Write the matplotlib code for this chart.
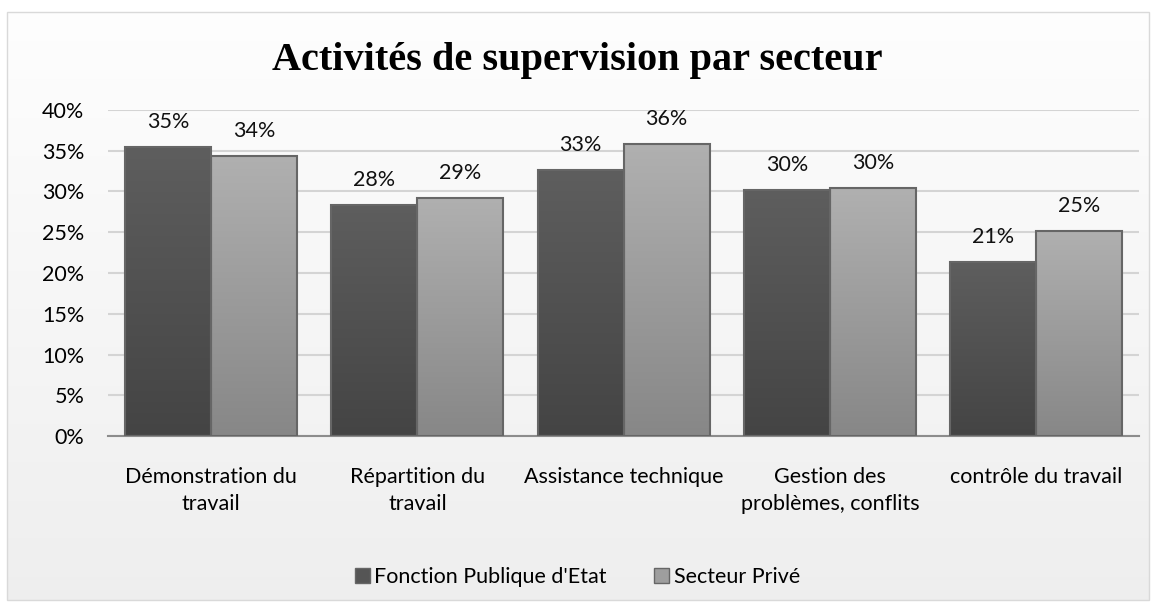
'''Bar chart: supervision activities by sector'''

import numpy as np
import matplotlib as ma
ma.use('agg')
import matplotlib.pyplot as plt
from matplotlib.patches import Rectangle, Patch

categories = ['Démonstration du\ntravail', 'Répartition du\ntravail',
              'Assistance technique', 'Gestion des\nproblèmes, conflits',
              'contrôle du travail']
publique = [35.4, 28.4, 32.6, 30.2, 21.3]
prive = [34.4, 29.2, 35.8, 30.4, 25.2]
labels_pub = ['35%', '28%', '33%', '30%', '21%']
labels_prv = ['34%', '29%', '36%', '30%', '25%']
series_names = ["Fonction Publique d'Etat", 'Secteur Privé']
yticks = [0, 5, 10, 15, 20, 25, 30, 35, 40]

FONT = ['Lato', 'DejaVu Sans']
plt.rcParams['font.family'] = FONT
FS = 15.5


def gradient_bar(ax, bar, top_col, bot_col):
    x, y = bar.get_x(), bar.get_y()
    w, h = bar.get_width(), bar.get_height()
    grad = np.linspace(0, 1, 256).reshape(-1, 1)
    c1 = np.array(ma.colors.to_rgb(top_col))
    c2 = np.array(ma.colors.to_rgb(bot_col))
    img = c1 * (1 - grad[..., None]) + c2 * grad[..., None]
    im = ax.imshow(img, extent=(x, x + w, y, y + h), origin='upper',
                   aspect='auto', zorder=2)
    im.set_clip_path(bar)
    bar.set_facecolor('none')
    bar.set_edgecolor('#666666')
    bar.set_linewidth(1.5)
    bar.set_zorder(3)


def main():
    fig = plt.figure(figsize=(11.55, 6.04), dpi=100)
    fig.patch.set_facecolor('white')

    # chart area background with soft vertical gradient
    bg = fig.add_axes([0, 0, 1, 1], zorder=-5)
    g = np.linspace(0, 1, 256).reshape(-1, 1)
    top = np.array([0.995, 0.995, 0.995])
    bot = np.array([0.935, 0.935, 0.935])
    bg.imshow(top * (1 - g[..., None]) + bot * g[..., None],
              extent=(0.006, 0.995, 0.007, 0.98), aspect='auto', origin='upper')
    bg.add_patch(Rectangle((0.006, 0.007), 0.989, 0.973, fill=False,
                           edgecolor='#d9d9d9', lw=1))
    bg.set_xlim(0, 1)
    bg.set_ylim(0, 1)
    bg.axis('off')

    ax = fig.add_axes([0.0935, 0.278, 0.893, 0.54])
    ax.set_facecolor('none')
    x = np.arange(len(categories))
    w = 0.417
    b1 = ax.bar(x - w / 2, publique, w)
    b2 = ax.bar(x + w / 2, prive, w)
    for bar in b1:
        gradient_bar(ax, bar, '#5e5e5e', '#444444')
    for bar in b2:
        gradient_bar(ax, bar, '#b0b0b0', '#878787')

    for i in range(len(categories)):
        ax.annotate(labels_pub[i], (x[i] - w / 2, publique[i]), xytext=(0, 18),
                    textcoords='offset points', ha='center', va='center',
                    fontsize=FS, color='#111111')
        ax.annotate(labels_prv[i], (x[i] + w / 2, prive[i]), xytext=(0, 18),
                    textcoords='offset points', ha='center', va='center',
                    fontsize=FS, color='#111111')

    ax.set_xlim(-0.5, len(categories) - 0.5)
    ax.set_ylim(0, 40)
    ax.set_yticks(yticks)
    ax.set_yticklabels(['%d%%' % t for t in yticks], fontsize=FS)
    ax.yaxis.grid(True, color='#d4d4d4', lw=1.5)
    ax.set_axisbelow(True)
    ax.set_xticks(x)
    ax.set_xticklabels(categories, fontsize=FS, linespacing=1.45)
    ax.tick_params(axis='both', length=0)
    ax.tick_params(axis='y', pad=17)
    ax.tick_params(axis='x', pad=22)
    for s in ['top', 'right', 'left']:
        ax.spines[s].set_visible(False)
    ax.spines['bottom'].set_color('#8c8c8c')
    ax.spines['bottom'].set_linewidth(1.5)

    fig.text(0.5, 0.9, 'Activités de supervision par secteur',
             ha='center', va='center', fontsize=29, fontweight='bold',
             family=['Liberation Serif', 'DejaVu Serif'])

    handles = [Patch(facecolor='#555555', edgecolor='#666666'),
               Patch(facecolor='#9e9e9e', edgecolor='#666666')]
    fig.legend(handles, series_names, loc='center', bbox_to_anchor=(0.5, 0.045),
               ncol=2, frameon=False, fontsize=FS, handlelength=0.7,
               handleheight=0.7, handletextpad=0.2, columnspacing=2.2)

    fig.savefig('out.png', dpi=100)


if __name__ == "__main__":
    main()
